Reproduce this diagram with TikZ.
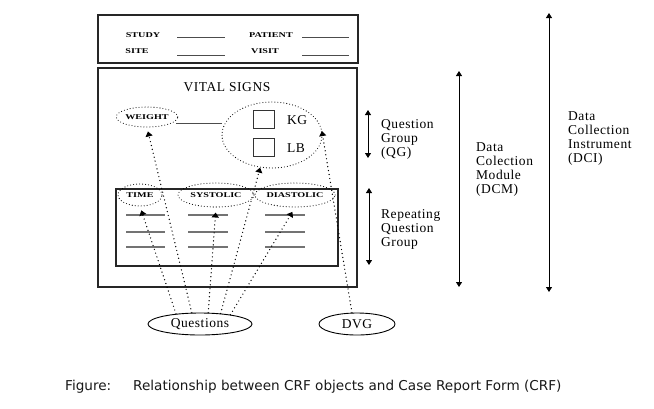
\documentclass[tikz,border=0pt]{standalone}
\usepackage{fontspec}
\usepackage{graphicx}
\setmainfont{Liberation Serif}
\newfontfamily\bigfont[LetterSpace=4]{Liberation Serif}
\newfontfamily\capfont{DejaVu Sans}
\usetikzlibrary{arrows.meta,shapes.geometric}
\newcommand\smtext[1]{\scalebox{1.45}[1.05]{\fontsize{7}{8}\selectfont\bfseries #1}}
\tikzset{
  frame/.style={draw=black!85, line width=1.1pt},
  blank/.style={draw=black!70, line width=0.9pt},
  small/.style={inner sep=0pt},
  big/.style={font=\bigfont\fontsize{13.5}{14}\selectfont, inner sep=0pt},
  oval/.style={draw, ellipse, dash pattern=on 0pt off 3pt, line cap=round, line width=1.1pt, inner sep=0pt},
  chk/.style={draw=black!80, line width=1pt, minimum width=21pt, minimum height=18pt, inner sep=0pt},
  darr/.style={line width=1.4pt, dash pattern=on 0pt off 4pt, line cap=round, -{Triangle[length=5pt,width=7pt]}},
  dbl/.style={line width=0.9pt, {Triangle[length=5pt,width=6pt]}-{Triangle[length=5pt,width=6pt]}},
  lbl/.style={big, anchor=west, align=left},
  solidoval/.style={draw, ellipse, line width=0.9pt, inner sep=0pt, minimum height=22pt},
  captxt/.style={font=\capfont\fontsize{13.6}{15}\selectfont, text=black!90, anchor=west, inner sep=0pt}
}
\begin{document}
\begin{tikzpicture}[x=1pt,y=-1pt]
\useasboundingbox[fill=white] (0,0) rectangle (654,408);

% header box
\node[frame, minimum width=260pt, minimum height=48pt, inner sep=0pt] (hdr) at (228,39) {};
\node[small] (study) at (143,35) {\smtext{STUDY}};
\node[small] (patient) at (271,35) {\smtext{PATIENT}};
\node[small] (site) at (137,51) {\smtext{SITE}};
\node[small] (visit) at (265,51) {\smtext{VISIT}};
\draw[blank] (177,37) -- (225,37);
\draw[blank] (302,37) -- (349,37);
\draw[blank] (177,55) -- (225,55);
\draw[blank] (302,55) -- (349,55);

% main module box
\node[frame, minimum width=259pt, minimum height=219pt, inner sep=0pt] (dcm) at (227.5,177.5) {};
\node[big] (vs) at (227,87) {VITAL SIGNS};

% weight
\node[oval, minimum width=60pt, minimum height=20pt] (w) at (147,117) {\smtext{WEIGHT}};
\draw[blank] (176,123) -- (222,123);

% KG / LB group
\node[oval, minimum width=100pt, minimum height=66pt] (b) at (272,135) {};
\node[chk] (kg) at (264,119) {};
\node[big, anchor=west] (kgt) at (287,120) {KG};
\node[chk] (lb) at (264,147) {};
\node[big, anchor=west] (lbt) at (287,148) {LB};

% repeating group box
\node[frame, minimum width=222pt, minimum height=77pt, inner sep=0pt] (rqg) at (227,227.5) {};
\node[oval, minimum width=44pt, minimum height=22pt] (ti) at (140,195) {\smtext{TIME}};
\node[oval, minimum width=76pt, minimum height=24pt] (sy) at (216,195) {\smtext{SYSTOLIC}};
\node[oval, minimum width=72pt, minimum height=24pt] (di) at (295,195) {\smtext{DIASTOLIC}};
\foreach \yy in {215,232,247}{
  \draw[draw=black!55, line width=1.1pt] (126,\yy) -- (165,\yy);
  \draw[draw=black!55, line width=1.1pt] (188,\yy) -- (228,\yy);
  \draw[draw=black!55, line width=1.1pt] (265,\yy) -- (305,\yy);
}

% bottom ellipses
\node[solidoval, big, minimum width=104pt] (q) at (200,324) {Questions};
\node[solidoval, big, minimum width=76pt] (dvg) at (357,324) {DVG};

% dotted arrows
\draw[darr, shorten >=4pt] (q.126) -- (w.south);
\draw[darr, shorten >=4pt] (q.157) -- (ti.south);
\draw[darr, shorten >=5pt] (q.54) -- (sy.south);
\draw[darr] (q.27) -- (b.250);
\draw[darr, shorten >=5pt] (q.17) -- (di.south);
\draw[darr, shorten >=-4pt] (dvg.114) -- (b.east);

% right-hand scale arrows
\coordinate (qgT) at (368,110); \coordinate (qgB) at (368,158);
\coordinate (rqT) at (369,188); \coordinate (rqB) at (369,265);
\coordinate (dmT) at (459,71);  \coordinate (dmB) at (459,287);
\coordinate (diT) at (549,13);  \coordinate (diB) at (549,292);
\draw[dbl] (qgT) -- (qgB);
\draw[dbl] (rqT) -- (rqB);
\draw[dbl] (dmT) -- (dmB);
\draw[dbl] (diT) -- (diB);
\node[lbl] (qgl) at (381,139) {Question\\Group\\(QG)};
\node[lbl] (rql) at (381,229) {Repeating\\Question\\Group};
\node[lbl] (dml) at (476,170) {Data\\Colection\\Module\\(DCM)};
\node[lbl] (dil) at (568,139) {Data\\Collection\\Instrument\\(DCI)};

% caption
\node[captxt] (fig) at (65,387) {Figure:};
\node[captxt] (cap) at (133,387) {Relationship between CRF objects and Case Report Form (CRF)};
\end{tikzpicture}
\end{document}
